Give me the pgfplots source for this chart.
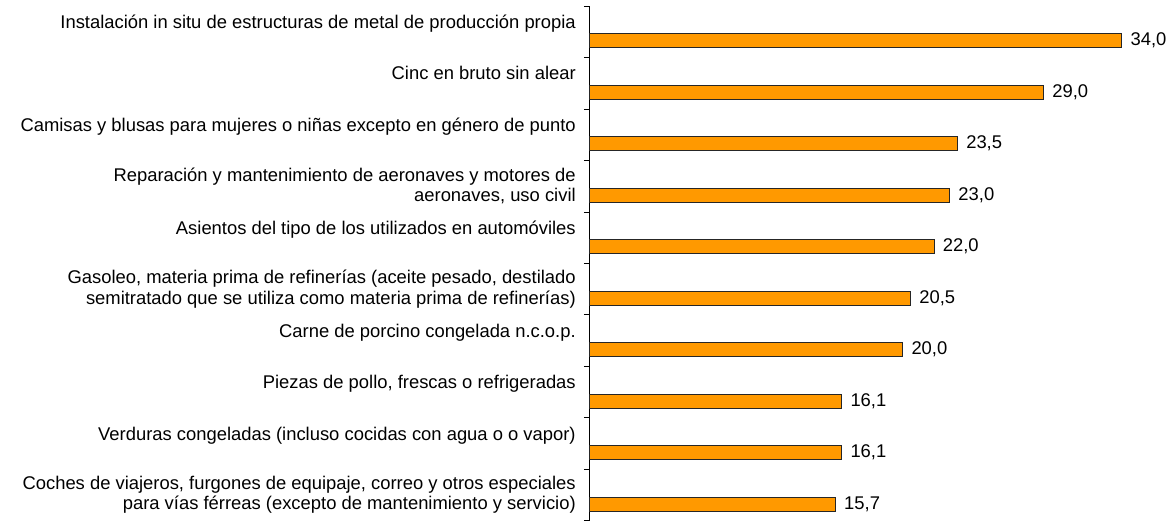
\documentclass[border=0pt]{standalone}
\usepackage{pgfplots}
\pgfplotsset{compat=1.18}
\usepackage{fontspec}
\setmainfont{Liberation Sans}
\definecolor{barorange}{RGB}{255,153,0}
\begin{document}
\begin{tikzpicture}
\begin{axis}[
  scale only axis,
  width=422.6pt, height=386.25pt,
  xmin=0, xmax=36,
  ymin=0.5, ymax=10.5,
  y dir=reverse,
  xbar,
  bar width=10.5pt,
  bar shift=-6.75pt,
  axis x line=none,
  axis y line*=left,
  axis line style={-, black, line width=0.6pt},
  ytick={1,...,10},
  major tick length=0pt,
  minor ytick={0.5,1.5,...,10.5},
  minor tick length=4.5pt,
  tick align=outside,
  tick style={black, line width=0.6pt},
  yticklabel style={font=\fontsize{13.8}{15.2}\selectfont, align=right, xshift=-7pt},
  yticklabels={
    {Instalación in situ de estructuras de metal de producción propia\\ \mbox{}},
    {Cinc en bruto sin alear\\ \mbox{}},
    {Camisas y blusas para mujeres o niñas excepto en género de punto\\ \mbox{}},
    {Reparación y mantenimiento de aeronaves y motores de\\aeronaves, uso civil},
    {Asientos del tipo de los utilizados en automóviles\\ \mbox{}},
    {Gasoleo, materia prima de refinerías (aceite pesado, destilado\\semitratado que se utiliza como materia prima de refinerías)},
    {Carne de porcino congelada n.c.o.p.\\ \mbox{}},
    {Piezas de pollo, frescas o refrigeradas\\ \mbox{}},
    {Verduras congeladas (incluso cocidas con agua o o vapor)\\ \mbox{}},
    {Coches de viajeros, furgones de equipaje, correo y otros especiales\\para vías férreas (excepto de mantenimiento y servicio)}
  },
  nodes near coords,
  nodes near coords style={font=\fontsize{13.8}{15}\selectfont, anchor=west, xshift=3pt, black,
    /pgf/number format/.cd, fixed, fixed zerofill, precision=1, use comma, assume math mode=true},
  clip=false,
]
\addplot[fill=barorange, draw=black!85, line width=0.6pt] coordinates {
  (34.0,1) (29.0,2) (23.5,3) (23.0,4) (22.0,5) (20.5,6) (20.0,7) (16.1,8) (16.1,9) (15.7,10)
};
\end{axis}
\path (current axis.south west) ++(-442.5pt,0pt) coordinate (bl);
\path (current axis.north east) ++(15.75pt,4.5pt) coordinate (tr);
\path (bl) rectangle (tr);
\end{tikzpicture}
\end{document}
